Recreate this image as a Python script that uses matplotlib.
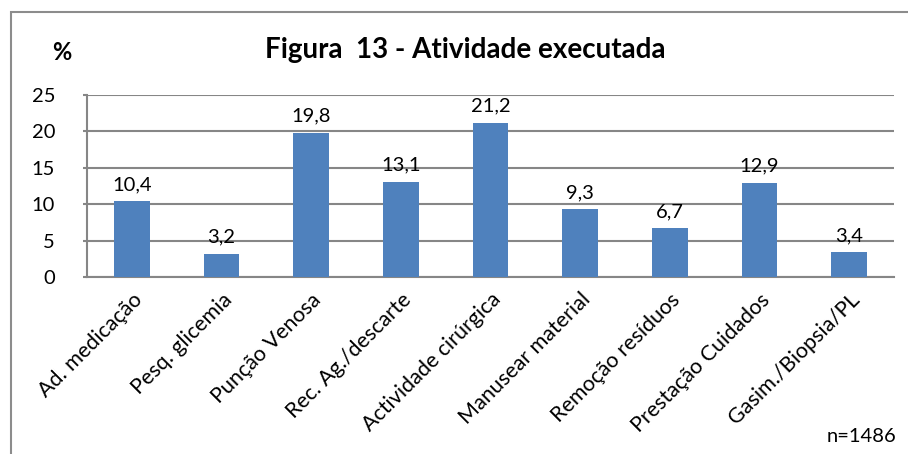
import matplotlib
matplotlib.use("Agg")
import matplotlib.pyplot as plt
from matplotlib.patches import Rectangle

categories = ["Ad. medicação", "Pesq. glicemia", "Punção Venosa", "Rec. Ag./descarte",
              "Actividade cirúrgica", "Manusear material", "Remoção resíduos",
              "Prestação Cuidados", "Gasim./Biopsia/PL"]
values = [10.4, 3.2, 19.8, 13.1, 21.2, 9.3, 6.7, 12.9, 3.4]
yticks = [0, 5, 10, 15, 20, 25]

plt.rcParams['font.family'] = ['Lato', 'DejaVu Sans']

fig = plt.figure(figsize=(9.08, 4.54), dpi=100)
ax = fig.add_axes([87/908, 1-277/454, (894-87)/908, (277-95)/454])

grid_c = '#868686'
x = list(range(len(categories)))
ax.bar(x, values, width=0.4, color='#4F81BD', zorder=3)
ax.set_xlim(-0.5, len(categories)-0.5)
ax.set_ylim(0, 25)
ax.set_yticks(yticks)
ax.set_yticklabels([str(v) for v in yticks], fontsize=14.5)
ax.yaxis.grid(True, color=grid_c, linewidth=1.5, zorder=0)
ax.set_axisbelow(True)
for s in ['top', 'right']:
    ax.spines[s].set_visible(False)
for s in ['left', 'bottom']:
    ax.spines[s].set_color(grid_c)
    ax.spines[s].set_linewidth(1.5)
ax.tick_params(axis='y', length=3, color=grid_c, width=1.5, pad=20)
ax.tick_params(axis='x', length=0, pad=9)
ax.set_xticks(x)
ax.set_xticklabels(categories, rotation=45, ha='right', rotation_mode='anchor', fontsize=15.5)

for xi, v in zip(x, values):
    ax.annotate(f"{v:.1f}".replace('.', ','), (xi, v), xytext=(0, 6), textcoords='offset points',
                ha='center', va='bottom', fontsize=14.5)

fig.text(465/908, 1-50/454, "Figura  13 - Atividade executada", ha='center', va='center',
         fontsize=20, fontweight='bold')
fig.text(62/908, 1-53/454, "%", ha='center', va='center', fontsize=17, fontweight='bold')
fig.text(862/908, 1-437/454, "n=1486", ha='center', va='center', fontsize=14.5)

fig.patches.append(Rectangle((11/908, -0.1), 1.2, 1.1 - 12/454, transform=fig.transFigure,
                             fill=False, edgecolor='#8c8c8c', linewidth=1.5))

fig.savefig("out.png", dpi=100)
